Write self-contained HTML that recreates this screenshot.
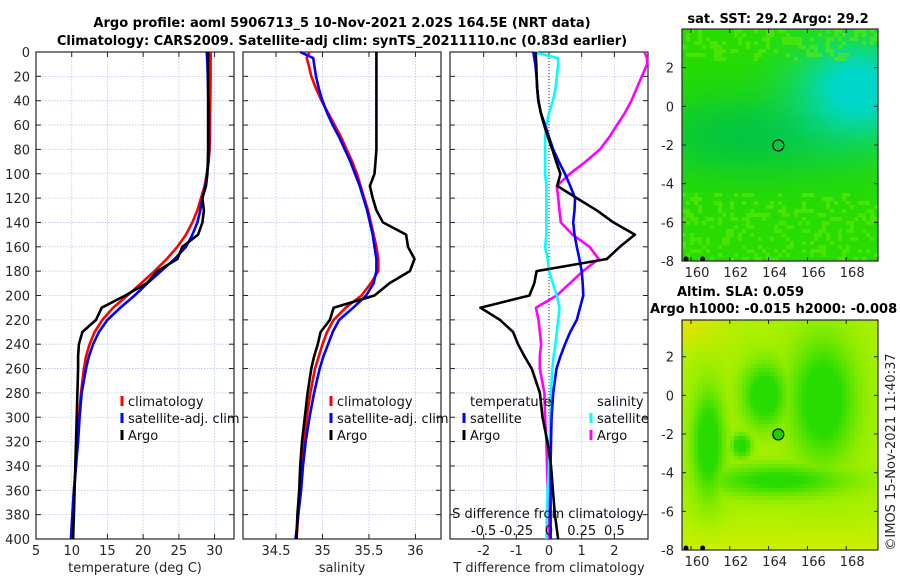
<!DOCTYPE html>
<html><head><meta charset="utf-8">
<style>
html,body{margin:0;padding:0;background:#fff;}
svg{display:block;font-family:"DejaVu Sans","Liberation Sans",sans-serif;}
</style></head>
<body>
<svg id="chart" width="900" height="580" viewBox="0 0 900 580" xmlns="http://www.w3.org/2000/svg">
<text x="342" y="27" font-size="13" font-weight="bold" text-anchor="middle">Argo profile: aoml 5906713_5 10-Nov-2021 2.02S 164.5E (NRT data)</text>
<text x="342" y="45" font-size="13" font-weight="bold" text-anchor="middle">Climatology: CARS2009. Satellite-adj clim: synTS_20211110.nc (0.83d earlier)</text>
<g id="maps"></g>
<g id="panels"></g>
</svg>
<script>
const depths=[0,5,10,20,30,40,50,60,70,80,90,100,110,120,130,140,150,160,170,180,190,200,210,220,230,240,250,260,280,300,320,340,360,380,400];
const tempClim=[29.45,29.45,29.45,29.45,29.43,29.4,29.38,29.36,29.34,29.3,29.15,28.9,28.6,28.1,27.6,26.9,26.0,24.8,23.3,21.6,19.7,17.8,15.8,14.3,13.2,12.5,12.0,11.7,11.3,11.0,10.8,10.6,10.3,10.1,9.9];
const tempSat=[28.9,28.95,29.0,29.05,29.1,29.15,29.2,29.2,29.2,29.2,29.15,28.95,28.7,28.3,28.0,27.6,26.9,26.0,24.4,22.5,20.6,18.8,16.8,15.0,13.8,13.0,12.4,12.0,11.4,11.1,10.9,10.6,10.3,10.1,9.9];
const tempArgo=[29.1,29.1,29.1,29.1,29.1,29.1,29.1,29.1,29.1,29.1,29.05,29.0,28.8,28.3,28.5,28.3,27.7,25.5,24.8,22.0,20.5,17.5,14.2,13.4,11.5,11.0,10.9,10.9,10.8,10.7,10.6,10.5,10.4,10.3,10.2];
const psalClim=[34.86,34.83,34.85,34.88,34.93,34.99,35.06,35.13,35.2,35.26,35.32,35.37,35.41,35.45,35.49,35.52,35.55,35.58,35.6,35.6,35.52,35.42,35.25,35.12,35.05,35.0,34.96,34.92,34.87,34.83,34.8,34.78,34.76,34.74,34.72];
const psalSat=[34.76,34.9,34.91,34.93,34.96,35.0,35.05,35.11,35.18,35.24,35.3,35.35,35.4,35.44,35.48,35.51,35.54,35.56,35.58,35.58,35.55,35.47,35.33,35.18,35.11,35.06,35.01,34.97,34.91,34.86,34.82,34.79,34.77,34.74,34.71];
const psalArgo=[35.58,35.58,35.58,35.58,35.58,35.58,35.58,35.58,35.58,35.58,35.57,35.56,35.51,35.54,35.58,35.65,35.9,35.92,35.99,35.94,35.72,35.56,35.12,35.08,34.98,34.95,34.91,34.88,34.84,34.81,34.78,34.76,34.75,34.73,34.72];
const dTSat=[-0.48,-0.45,-0.42,-0.38,-0.36,-0.33,-0.25,-0.12,0.0,0.13,0.3,0.49,0.65,0.8,0.78,0.74,0.78,0.85,0.93,1.0,1.03,1.05,0.95,0.85,0.65,0.49,0.35,0.23,0.13,0.08,0.06,0.05,0.05,0.05,0.05];
const dTArgo=[-0.4,-0.4,-0.39,-0.38,-0.36,-0.32,-0.25,-0.15,-0.03,0.1,0.22,0.35,0.25,0.85,1.46,1.97,2.63,2.17,1.77,-0.38,-0.45,-0.6,-2.1,-1.5,-1.1,-0.95,-0.75,-0.53,-0.28,-0.2,-0.05,0.06,0.12,0.18,0.28];
const dSSat=[-0.12,0.07,0.07,0.06,0.05,0.03,0.0,-0.02,-0.03,-0.03,-0.03,-0.03,-0.02,-0.02,-0.02,-0.02,-0.02,-0.03,-0.01,0.0,0.03,0.06,0.08,0.07,0.06,0.05,0.035,0.025,0.015,0.01,0.005,0.0,-0.01,-0.015,-0.02];
const dSArgo=[0.73,0.75,0.75,0.71,0.67,0.63,0.58,0.52,0.46,0.39,0.28,0.16,0.06,0.07,0.08,0.09,0.18,0.31,0.38,0.26,0.16,0.06,-0.1,-0.08,-0.07,-0.06,-0.07,-0.07,-0.035,-0.03,-0.02,-0.015,-0.01,-0.005,0.0];
const depthTicks=[0,20,40,60,80,100,120,140,160,180,200,220,240,260,280,300,320,340,360,380,400];
const tempTicks=[5,10,15,20,25,30];
const psalTicks=[34.5,35,35.5,36];
const dTTicks=[-2,-1,0,1,2];
const dSTicks=[-0.5,-0.25,0,0.25,0.5];
const dSTickLabels=["-0.5","-0.25","0","0.25","0.5"];
const lonTicks=[160,162,164,166,168];
const latTicks=[2,0,-2,-4,-6,-8];
const floatLon=164.5, floatLat=-2.02;

const NS="http://www.w3.org/2000/svg";
function mk(tag,attrs,parent,text){const e=document.createElementNS(NS,tag);for(const k in attrs)e.setAttribute(k,attrs[k]);if(text!==undefined)e.textContent=text;parent.appendChild(e);return e;}
const panels=document.getElementById('panels');
const Y0=52,Y1=539;
function yD(d){return Y0+(d/400)*(Y1-Y0);}

function panel(name,x0,x1,vmin,vmax,ticks,labels){
  const g=mk('g',{},panels);
  
  
  const xs=v=>x0+(v-vmin)/(vmax-vmin)*(x1-x0);
  ticks.forEach(t=>{const l=mk('line',{x1:xs(t),x2:xs(t),y1:Y0,y2:Y1,stroke:'#b8c4ee','stroke-width':0.8,'stroke-dasharray':'1.5,1.5'},g);
    });
  depthTicks.forEach(d=>{const l=mk('line',{x1:x0,x2:x1,y1:yD(d),y2:yD(d),stroke:'#b8c4ee','stroke-width':0.8,'stroke-dasharray':'1.5,1.5'},g);
    
    mk('line',{x1:x0,x2:x0+5,y1:yD(d),y2:yD(d),stroke:'#222'},g);
    mk('line',{x1:x1-5,x2:x1,y1:yD(d),y2:yD(d),stroke:'#222'},g);});
  ticks.forEach((t,i)=>{mk('line',{x1:xs(t),x2:xs(t),y1:Y0,y2:Y0+5,stroke:'#222'},g);
    mk('line',{x1:xs(t),x2:xs(t),y1:Y1-5,y2:Y1,stroke:'#222'},g);
    const tx=mk('text',{x:xs(t),y:555,'font-size':13,'text-anchor':'middle',fill:'#262626'},g,labels?labels[i]:String(t));
    });
  const r=mk('rect',{x:x0,y:Y0,width:x1-x0,height:Y1-Y0,fill:'none',stroke:'#262626','stroke-width':1.2},g);
  
  return {g,xs};
}
function line(p,vals,scale,color,name,w){
  const pts=vals.map((v,i)=>scale(v).toFixed(1)+','+yD(depths[i]).toFixed(1)).join(' ');
  const pl=mk('polyline',{points:pts,fill:'none',stroke:color,'stroke-width':w||2.6,'stroke-linejoin':'round'},p.g);
  
  
}
function legendEntry(g,x,y,color,label,name){
  const e=mk('g',{},g);
  
  
  if(color) mk('line',{x1:x,x2:x,y1:y-10,y2:y,stroke:color,'stroke-width':3},e);
  mk('text',{x:x+6,y:y,'font-size':13,fill:'#111'},e,label);
}
const p1=panel('temperature-panel',36,234,5,32.72,tempTicks);
line(p1,tempClim,p1.xs,'#ff0000','temp-climatology-line');
line(p1,tempSat,p1.xs,'#0000ff','temp-satellite-line');
line(p1,tempArgo,p1.xs,'#000000','temp-argo-line');
depthTicks.forEach(d=>{const t=mk('text',{x:30,y:yD(d)+5,'font-size':13,'text-anchor':'end',fill:'#262626'},panels,String(d));
  });
mk('text',{x:135,y:572,'font-size':13,'text-anchor':'middle',fill:'#262626'},p1.g,'temperature (deg C)');
legendEntry(p1.g,122,406,'#ff0000','climatology','legend-climatology');
legendEntry(p1.g,122,423,'#0000ff','satellite-adj. clim','legend-satellite-adj');
legendEntry(p1.g,122,440,'#000000','Argo','legend-argo');
const p2=panel('salinity-panel',243,441,34.145,36.275,psalTicks);
line(p2,psalClim,p2.xs,'#ff0000','psal-climatology-line');
line(p2,psalSat,p2.xs,'#0000ff','psal-satellite-line');
line(p2,psalArgo,p2.xs,'#000000','psal-argo-line');
mk('text',{x:342,y:572,'font-size':13,'text-anchor':'middle',fill:'#262626'},p2.g,'salinity');
legendEntry(p2.g,331,406,'#ff0000','climatology','legend-climatology');
legendEntry(p2.g,331,423,'#0000ff','satellite-adj. clim','legend-satellite-adj');
legendEntry(p2.g,331,440,'#000000','Argo','legend-argo');
const p3=panel('difference-panel',450,648,-3.03,3.03,dTTicks);
const sS=v=>549+v*130.8;
const zl=mk('line',{x1:549,x2:549,y1:Y0,y2:Y1,stroke:'#333','stroke-width':1,'stroke-dasharray':'1,2'},p3.g);

line(p3,dSArgo,sS,'#ff00ff','psal-argo-diff-line');
line(p3,dSSat,sS,'#00ffff','psal-satellite-diff-line');
line(p3,dTSat,p3.xs,'#0000ff','temp-satellite-diff-line');
line(p3,dTArgo,p3.xs,'#000000','temp-argo-diff-line');
mk('text',{x:549,y:572,'font-size':13,'text-anchor':'middle',fill:'#262626'},p3.g,'T difference from climatology');
mk('text',{x:548,y:518,'font-size':13,'text-anchor':'middle',fill:'#111'},p3.g,'S difference from climatology');
dSTicks.forEach((t,i)=>{const tx=mk('text',{x:sS(t),y:535,'font-size':13,'text-anchor':'middle',fill:'#111'},p3.g,dSTickLabels[i]);
  });
mk('text',{x:470,y:406,'font-size':13,fill:'#111'},p3.g,'temperature');
legendEntry(p3.g,464,423,'#0000ff','satellite','legend-temp-satellite');
legendEntry(p3.g,464,440,'#000000','Argo','legend-temp-argo');
mk('text',{x:597,y:406,'font-size':13,fill:'#111'},p3.g,'salinity');
legendEntry(p3.g,591,423,'#00ffff','satellite','legend-psal-satellite');
legendEntry(p3.g,591,440,'#ff00ff','Argo','legend-psal-argo');

const maps=document.getElementById('maps');
const MX0=682,MX1=878;
const lonX=lon=>691+(lon-160)*19.4;
function mix(a,b,t){t=Math.max(0,Math.min(1,t));return a.map((v,i)=>Math.round(v+(b[i]-v)*t));}
function gauss(lon,lat,cl,ct,sl,st){return Math.exp(-(((lon-cl)/sl)**2+((lat-ct)/st)**2));}
function hash(i,j){let h=(i*374761393+j*668265263)|0;h=(h^(h>>>13))*1274126177|0;return ((h^(h>>>16))>>>0)/4294967296;}
function sstColor(lon,lat,i,j){
  let c=[40,220,0];
  const band=gauss(lon,lat,163,-1.5,6,2.2);
  c=mix(c,[0,196,70],band*0.9);
  const cy=gauss(lon,lat,168.6,0.9,3.2,2.6);
  c=mix(c,[0,215,200],cy*1.15);
  const n=hash(i,j);
  if((lat<-4.5||lat>2.3) && n<0.3) c=mix(c,[100,236,0],0.55);
  return c;
}
function slaColor(lon,lat){
  let c=[170,240,0];
  c=mix(c,[225,228,0],gauss(lon,lat,159.6,4,2.2,1.6));
  c=mix(c,[205,240,0],(lat<-6)?(-6-lat)/2:0);
  let g=0;
  g=Math.max(g,gauss(lon,lat,160.9,-2.5,0.8,2.6));
  g=Math.max(g,gauss(lon,lat,163.8,0.0,1.1,1.6));
  g=Math.max(g,gauss(lon,lat,166.8,-0.3,1.6,3.0));
  g=Math.max(g,gauss(lon,lat,164.5,-4.4,3.5,0.8)*0.8);
  g=Math.max(g,gauss(lon,lat,162.6,-2.6,0.5,0.6));
  c=mix(c,[40,220,0],g*1.4);
  return c;
}
function drawMap(name,top,bottom,latTop,colorFn,filled){
  const g=mk('g',{},maps);
  
  
  const latY=lat=>top+(latTop-lat)*((bottom-top)/(latTop+8));
  const cell=4;
  for(let y=top;y<bottom;y+=cell){for(let x=MX0;x<MX1;x+=cell){
    const lon=160+(x+cell/2-691)/19.4, lat=latTop-(y+cell/2-top)/((bottom-top)/(latTop+8));
    const c=colorFn(lon,lat,x,y);
    mk('rect',{x:x,y:y,width:cell+0.3,height:Math.min(cell,bottom-y)+0.3,fill:`rgb(${c[0]},${c[1]},${c[2]})`},g);}}
  const fr=mk('rect',{x:MX0,y:top,width:MX1-MX0,height:bottom-top,fill:'none',stroke:'#262626','stroke-width':1.2},g);
  
  latTicks.forEach(t=>{const y=latY(t);mk('line',{x1:MX0,x2:MX0+4,y1:y,y2:y,stroke:'#222'},g);mk('line',{x1:MX1-4,x2:MX1,y1:y,y2:y,stroke:'#222'},g);
    const tx=mk('text',{x:674,y:y+5,'font-size':13,'text-anchor':'end',fill:'#262626'},g,String(t));
    });
  lonTicks.forEach(t=>{const x=lonX(t);mk('line',{x1:x,x2:x,y1:top,y2:top+4,stroke:'#222'},g);mk('line',{x1:x,x2:x,y1:bottom-4,y2:bottom,stroke:'#222'},g);
    const tx=mk('text',{x:x+6,y:bottom+16,'font-size':13,'text-anchor':'middle',fill:'#262626'},g,String(t));
    });
  const m=mk('circle',{cx:lonX(floatLon),cy:latY(floatLat),r:5.5,fill:filled?'#22cc00':'none',stroke:'#000','stroke-width':1.2},g);
  
  mk('circle',{cx:MX0+4,cy:bottom-2,r:2.5,fill:'#000'},g);
  mk('circle',{cx:lonX(160.6),cy:bottom-2,r:2.5,fill:'#000'},g);
}
drawMap('sst-map',29,261,4,sstColor,false);
drawMap('sla-map',320,550,3.9,slaColor,true);
mk('text',{x:778,y:23,'font-size':13,'font-weight':'bold','text-anchor':'middle'},maps,'sat. SST: 29.2 Argo: 29.2');
mk('text',{x:677,y:296,'font-size':13,'font-weight':'bold'},maps,'Altim. SLA: 0.059');
mk('text',{x:650,y:313,'font-size':13,'font-weight':'bold'},maps,'Argo h1000: -0.015 h2000: -0.008');
const cp=mk('text',{x:0,y:0,'font-size':13,'text-anchor':'middle',fill:'#262626',transform:'translate(895,452) rotate(-90)'},maps,'©IMOS 15-Nov-2021 11:40:37');

</script>
</body></html>
